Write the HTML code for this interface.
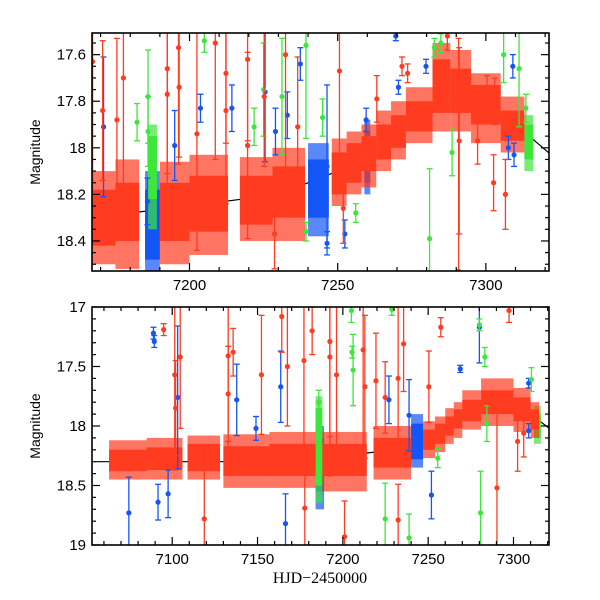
<!DOCTYPE html>
<html><head><meta charset="utf-8"><style>
html,body{margin:0;padding:0;background:#fff}
svg{display:block}
text{font-family:"Liberation Sans",sans-serif;fill:#000}
</style></head><body>
<svg id="chart" width="600" height="600" viewBox="0 0 600 600" xmlns="http://www.w3.org/2000/svg">
<rect width="600" height="600" fill="#fff"/>
<g id="top"></g>
<g id="bot"></g>
<text transform="translate(40,152) rotate(-90)" text-anchor="middle" font-size="14">Magnitude</text>
<text transform="translate(40,426) rotate(-90)" text-anchor="middle" font-size="14">Magnitude</text>
<text x="320" y="583" text-anchor="middle" font-size="16" style="font-family:'Liberation Serif',serif">HJD−2450000</text>
</svg>
<script>
// ===== Top panel data =====
const topRedBlobs=[[7167,7175,18.18,18.42,18.1,18.5],[7175,7183,18.15,18.4,18.05,18.52],[7190,7200,18.15,18.4,18.06,18.5],[7200,7213,18.12,18.36,18.03,18.46],[7217,7228,18.12,18.33,18.04,18.4],[7228,7239,18.08,18.3,18.0,18.4],[7248,7253,18.02,18.2,17.96,18.25],[7253,7258,17.98,18.15,17.93,18.2],[7258,7263,17.95,18.1,17.9,18.17],[7263,7268,17.9,18.05,17.84,18.1],[7268,7273,17.86,18.0,17.8,18.05],[7273,7282,17.8,17.93,17.74,17.98],[7282,7288,17.62,17.85,17.55,17.93],[7288,7295,17.66,17.85,17.58,17.93],[7295,7305,17.73,17.9,17.68,17.98],[7305,7313,17.84,17.97,17.78,18.02]];
const topBlueBlobs=[[7185,7190,18.18,18.48,18.1,18.53],[7240,7247,18.05,18.3,17.98,18.38],[7259,7261,17.93,18.15,17.88,18.2]];
const topGreenBlobs=[[7186,7189,17.95,18.22,17.9,18.35],[7313,7316,17.9,18.05,17.86,18.1]];
const topRedT=[7167.3,7170.7,7175.5,7177.7,7192.5,7192.5,7196.3,7196.5,7202.5,7208.7,7212.3,7212.3,7219.6,7219.6,7225.2,7228.7,7232.4,7236.5,7250.6,7251.9,7263.2,7271.7,7273.6,7290.8,7291,7287,7302.6,7303,7306.6,7300.4,7297.2];
const topRedM=[17.63,17.84,17.88,17.70,17.77,17.66,17.57,17.74,17.94,17.55,17.68,17.84,17.62,17.99,17.78,18.37,17.60,17.91,17.67,18.26,17.79,17.65,17.68,18.53,17.97,17.52,18.15,17.80,18.2,17.77,17.97];
const topRedE=[0.6,0.3,0.35,0.5,0.4,0.45,0.5,0.3,0.5,0.5,0.3,0.4,0.35,0.4,0.3,0.15,0.6,0.3,0.45,0.15,0.1,0.04,0.04,1.0,0.4,0.06,0.12,0.1,0.15,0.08,0.1];
const topGreenT=[7182.3,7186,7186,7205,7221.8,7225,7231.2,7239.3,7239.3,7244.9,7256.1,7281,7282.6,7284.8,7288.6,7306,7311.2,7313.5];
const topGreenM=[17.89,17.78,17.93,17.54,17.91,17.75,17.78,17.56,18.36,17.87,18.28,18.39,17.57,17.55,18.02,17.60,17.66,17.83];
const topGreenE=[0.08,0.2,0.15,0.05,0.08,0.2,0.25,0.4,0.04,0.08,0.04,0.3,0.04,0.04,0.1,0.12,0.25,0.06];
const topBlueT=[7171,7185.8,7195,7203.7,7214.3,7225.5,7229,7233,7237.4,7246.4,7246.4,7252.4,7259.6,7269.6,7270.5,7279.8,7309.1,7309.5,7307.6];
const topBlueM=[17.91,18.23,17.99,17.83,17.83,17.76,17.93,17.86,17.64,18.08,18.41,18.37,17.88,17.52,17.74,17.65,17.65,18.03,18.0];
const topBlueE=[0.3,0.1,0.15,0.06,0.1,0.3,0.1,0.1,0.07,0.35,0.05,0.06,0.05,0.02,0.03,0.03,0.05,0.05,0.05];
// ===== Bottom panel data =====
const botRedBlobs=[[7063,7085,18.2,18.38,18.12,18.45],[7085,7106,18.18,18.37,18.1,18.45],[7109,7128,18.15,18.38,18.08,18.45],[7130,7157,18.17,18.42,18.07,18.52],[7157,7184,18.15,18.42,18.05,18.52],[7188,7214,18.15,18.42,18.05,18.55],[7218,7240,18.1,18.35,18.0,18.45],[7247,7254,18.03,18.2,17.96,18.27],[7254,7260,17.98,18.15,17.92,18.22],[7260,7265,17.92,18.08,17.85,18.15],[7265,7270,17.86,18.02,17.8,18.1],[7270,7281,17.78,17.96,17.7,18.03],[7281,7300,17.7,17.9,17.6,18.0],[7300,7310,17.76,17.96,17.68,18.05],[7310,7315,17.86,18.03,17.8,18.1]];
const botBlueBlobs=[[7184,7189,18.1,18.55,18.0,18.7],[7240,7247,17.98,18.28,17.9,18.35]];
const botGreenBlobs=[[7184,7188,17.85,18.5,17.75,18.65],[7312,7316,17.9,18.1,17.83,18.15]];
const botRedT=[7095,7101.5,7102,7104.7,7118.8,7132.8,7132.8,7135.7,7152.3,7164.2,7167.5,7177.2,7177.7,7182,7192.4,7192.4,7196.3,7201,7211.9,7212.9,7219.4,7224.8,7232.4,7235.6,7232.4,7250.4,7257.4,7290.3,7297.4,7302.4,7306];
const botRedM=[17.19,17.57,17.85,17.42,18.78,17.41,17.73,17.38,17.57,17.08,17.5,17.45,18.69,17.2,17.42,17.29,17.57,18.93,17.36,17.67,17.62,17.76,17.6,17.31,18.79,17.67,17.17,18.52,17.03,18.13,18.06];
const botRedE=[0.05,0.8,0.4,0.6,0.6,0.8,0.4,0.2,0.5,0.3,0.5,0.8,0.4,0.2,1.0,0.8,0.7,0.3,0.9,0.6,0.4,0.3,0.6,0.4,0.3,0.3,0.08,0.8,0.1,0.25,0.2];
const botBlueT=[7089,7089.5,7074.6,7091.7,7097.6,7103.2,7137.8,7149.1,7163.6,7166.4,7227,7251.9,7268.8,7280,7308.9,7308.9,7238.8];
const botBlueM=[17.22,17.29,18.73,18.64,18.57,17.76,17.78,18.02,17.67,18.82,17.78,18.58,17.52,17.17,17.64,18.04,17.91];
const botBlueE=[0.05,0.05,0.3,0.15,0.2,0.6,0.3,0.1,0.3,0.25,0.2,0.2,0.03,0.3,0.04,0.06,0.3];
const botGreenT=[7185.9,7205,7205.4,7206,7228.7,7224.8,7238.8,7280,7280.7,7283.2,7310.5,7255.6,7284.4];
const botGreenM=[17.8,17.03,17.38,17.53,17.02,18.78,18.94,17.15,18.73,17.42,17.61,18.27,17.98];
const botGreenE=[0.1,0.1,0.05,0.3,0.05,0.3,0.2,0.05,0.35,0.08,0.1,0.08,0.15];
// model curve
const modelT=[7055,7100,7150,7180,7200,7230,7250,7270,7285,7295,7310,7322];
const modelM=[18.3,18.3,18.3,18.28,18.25,18.2,18.1,17.93,17.78,17.8,17.9,18.03];

const RED='#ff3b20',GREEN='#3de63a',BLUE='#1455f5';
const NS='http://www.w3.org/2000/svg';
function mk(tag,attrs,parent){const e=document.createElementNS(NS,tag);for(const k in attrs)e.setAttribute(k,attrs[k]);parent.appendChild(e);return e;}

function panel(gid,L,R,T,B,tmin,tmax,mtop,mbot,xMaj,xMin,yMaj,yMin,yFmt,blobs,pts){
  const g=document.getElementById(gid);
  const sx=t=>L+(t-tmin)/(tmax-tmin)*(R-L);
  const sy=m=>T+(m-mtop)/(mbot-mtop)*(B-T);
  const cp=mk('clipPath',{id:gid+'clip'},g);
  mk('rect',{x:L,y:T,width:R-L,height:B-T},cp);
  const dg=mk('g',{'clip-path':'url(#'+gid+'clip)'},g);
  let d='';modelT.forEach((t,i)=>{d+=(i?'L':'M')+sx(t).toFixed(1)+' '+sy(modelM[i]).toFixed(1);});
  const ml=mk('path',{d:d,fill:'none',stroke:'#000','stroke-width':1.2},dg);
  
  
  blobs.forEach(([arr,col,name])=>{arr.forEach(b=>{
    const o=mk('rect',{x:sx(b[0]),y:sy(b[4]),width:sx(b[1])-sx(b[0]),height:sy(b[5])-sy(b[4]),fill:col,opacity:0.7},dg);
    
    
    const c=mk('rect',{x:sx(b[0]),y:sy(b[2]),width:sx(b[1])-sx(b[0]),height:sy(b[3])-sy(b[2]),fill:col},dg);
    
    
  });});
  pts.forEach(([ts,ms,es,col,name])=>{ts.forEach((t,i)=>{
    const x=sx(t),y=sy(ms[i]),y1=sy(ms[i]-es[i]),y2=sy(ms[i]+es[i]);
    const p=mk('g',{},dg);
    
    
    mk('line',{x1:x,x2:x,y1:y1,y2:y2,stroke:col,'stroke-width':1.3},p);
    mk('line',{x1:x-3,x2:x+3,y1:y1,y2:y1,stroke:col,'stroke-width':1.3},p);
    mk('line',{x1:x-3,x2:x+3,y1:y2,y2:y2,stroke:col,'stroke-width':1.3},p);
    mk('circle',{cx:x,cy:y,r:2.6,fill:col},p);
  });});
  const fr=mk('rect',{x:L,y:T,width:R-L,height:B-T,fill:'none',stroke:'#000','stroke-width':1.6},g);
  
  
  const xs=Math.ceil(tmin/xMin)*xMin;
  for(let t=xs;t<=tmax;t+=xMin){const x=sx(t);const maj=Math.abs(t/xMaj-Math.round(t/xMaj))<1e-6;const len=maj?8:4;
    mk('line',{x1:x,x2:x,y1:B,y2:B-len,stroke:'#000','stroke-width':1.2},g);
    mk('line',{x1:x,x2:x,y1:T,y2:T+len,stroke:'#000','stroke-width':1.2},g);
    if(maj){const tl=mk('text',{x:x,y:B+19,'text-anchor':'middle','font-size':15},g);tl.textContent=t;
      
      }}
  const ys=Math.ceil(mtop/yMin-1e-6)*yMin;
  for(let m=ys;m<=mbot+1e-6;m+=yMin){const y=sy(m);const r=m/yMaj;const maj=Math.abs(r-Math.round(r))<1e-6;const len=maj?8:4;
    mk('line',{x1:L,x2:L+len,y1:y,y2:y,stroke:'#000','stroke-width':1.2},g);
    mk('line',{x1:R,x2:R-len,y1:y,y2:y,stroke:'#000','stroke-width':1.2},g);
    if(maj){const tl=mk('text',{x:L-6,y:y+5,'text-anchor':'end','font-size':15},g);tl.textContent=yFmt(m);
      
      }}
}
const fmt=m=>(Math.round(m*10)/10).toString();
panel('top',92,549,33,271,7167.1,7321.3,17.507,18.529,50,10,0.2,0.05,fmt,
 [[topBlueBlobs,BLUE,'blue'],[topGreenBlobs,GREEN,'green'],[topRedBlobs,RED,'red']],
 [[topBlueT,topBlueM,topBlueE,BLUE,'blue'],[topGreenT,topGreenM,topGreenE,GREEN,'green'],[topRedT,topRedM,topRedE,RED,'red']]);
panel('bot',92,549,307,545,7053,7320.8,17,19,50,10,0.5,0.1,fmt,
 [[botBlueBlobs,BLUE,'blue'],[botGreenBlobs,GREEN,'green'],[botRedBlobs,RED,'red']],
 [[botBlueT,botBlueM,botBlueE,BLUE,'blue'],[botGreenT,botGreenM,botGreenE,GREEN,'green'],[botRedT,botRedM,botRedE,RED,'red']]);
</script>
</body></html>
